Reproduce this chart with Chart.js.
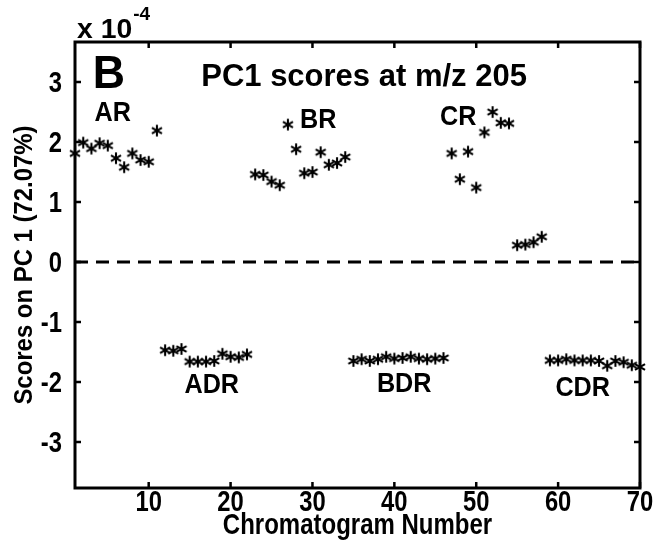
<!DOCTYPE html>
<html><head><meta charset="utf-8">
<script src="https://cdn.jsdelivr.net/npm/chart.js@4/dist/chart.umd.min.js"></script>
<style>html,body{margin:0;padding:0;background:#fff;}#wrap{width:662px;height:552px;}</style>
</head><body><div id="wrap"><canvas id="c" width="662" height="552"></canvas></div>
<script>
const chromatogram = [1,2,3,4,5,6,7,8,9,10,11,12,13,14,15,16,17,18,19,20,21,22,23,24,25,26,27,28,29,30,31,32,33,34,35,36,37,38,39,40,41,42,43,44,45,46,47,48,49,50,51,52,53,54,55,56,57,58,59,60,61,62,63,64,65,66,67,68,69,70];
const scores = [
  1.81, 1.99, 1.89, 1.98, 1.94, 1.73, 1.58, 1.81, 1.70, 1.67, 2.19,
  -1.47, -1.48, -1.45, -1.66, -1.66, -1.66, -1.65, -1.53, -1.58, -1.59, -1.54,
  1.46, 1.45, 1.34, 1.28, 2.29, 1.88, 1.48, 1.50, 1.83, 1.62, 1.65, 1.75,
  -1.65, -1.62, -1.65, -1.62, -1.58, -1.61, -1.60, -1.58, -1.61, -1.62, -1.61, -1.60,
  1.81, 1.38, 1.84, 1.24, 2.16, 2.50, 2.32, 2.31, 0.28, 0.29, 0.33, 0.42,
  -1.64, -1.64, -1.62, -1.64, -1.64, -1.64, -1.65, -1.73, -1.65, -1.67, -1.72, -1.75
];
const xTicks = [10, 20, 30, 40, 50, 60, 70];
const yTicks = [-3, -2, -1, 0, 1, 2, 3];
const groupNames = ['AR', 'BR', 'CR', 'ADR', 'BDR', 'CDR'];
const groupNameX = [5.6, 30.7, 47.8, 17.7, 41.2, 63.0];
const groupNameY = [2.48, 2.37, 2.42, -2.05, -2.03, -2.10];
const panelLetter = 'B';
const plotTitle = 'PC1 scores at m/z 205';
const xTitle = 'Chromatogram Number';
const yTitle = 'Scores on PC 1 (72.07%)';
const exponentBase = 'x 10';
const exponentPower = '-4';

const FONT = "'Liberation Sans', Arial, sans-serif";

function makeStar() {
  const c = document.createElement('canvas');
  c.width = 14; c.height = 14;
  const g = c.getContext('2d');
  g.strokeStyle = '#000'; g.lineWidth = 2.1; g.lineCap = 'butt';
  const r = 5.8;
  for (const a of [90, 30, 150]) {
    const t = a * Math.PI / 180;
    g.beginPath();
    g.moveTo(7 - r * Math.cos(t), 7 - r * Math.sin(t));
    g.lineTo(7 + r * Math.cos(t), 7 + r * Math.sin(t));
    g.stroke();
  }
  return c;
}

function txt(ctx, s, x, y, size, sx, align, baseline, rot) {
  ctx.save();
  ctx.translate(x, y);
  if (rot) ctx.rotate(rot);
  ctx.scale(sx, 1);
  ctx.font = 'bold ' + size + 'px ' + FONT;
  ctx.textAlign = align;
  ctx.textBaseline = baseline;
  ctx.fillStyle = '#000';
  ctx.fillText(s, 0, 0);
  ctx.restore();
}

const points = chromatogram.map((x, i) => ({x: x, y: scores[i]}));

const decor = {
  id: 'decor',
  afterDraw(chart) {
    const ctx = chart.ctx, a = chart.chartArea;
    const xs = chart.scales.x, ys = chart.scales.y;
    ctx.save();
    ctx.strokeStyle = '#000'; ctx.lineWidth = 3;
    ctx.strokeRect(a.left, a.top, a.right - a.left, a.bottom - a.top);
    ctx.lineWidth = 2.5;
    const tl = 6;
    xs.ticks.forEach(t => {
      const p = xs.getPixelForValue(t.value);
      ctx.beginPath();
      ctx.moveTo(p, a.bottom); ctx.lineTo(p, a.bottom - tl);
      ctx.moveTo(p, a.top); ctx.lineTo(p, a.top + tl);
      ctx.stroke();
      txt(ctx, String(t.value), p, 511, 29, 0.82, 'center', 'alphabetic');
    });
    ys.ticks.forEach(t => {
      const p = ys.getPixelForValue(t.value);
      ctx.beginPath();
      ctx.moveTo(a.left, p); ctx.lineTo(a.left + tl, p);
      ctx.moveTo(a.right, p); ctx.lineTo(a.right - tl, p);
      ctx.stroke();
      txt(ctx, String(t.value), a.left - 13, p + 10, 29, 0.82, 'right', 'alphabetic');
    });
    ctx.restore();
    groupNames.forEach((n, i) => {
      txt(ctx, n, xs.getPixelForValue(groupNameX[i]), ys.getPixelForValue(groupNameY[i]), 28, 0.9, 'center', 'middle');
    });
    txt(ctx, plotTitle, xs.getPixelForValue(36.3), ys.getPixelForValue(3.08), 31, 1.0, 'center', 'middle');
    txt(ctx, panelLetter, xs.getPixelForValue(5.15), ys.getPixelForValue(3.12), 47, 0.95, 'center', 'middle');
    txt(ctx, xTitle, (a.left + a.right) / 2, 534, 30, 0.8, 'center', 'alphabetic');
    txt(ctx, yTitle, 32, (a.top + a.bottom) / 2, 26, 0.92, 'center', 'alphabetic', -Math.PI / 2);
    txt(ctx, exponentBase, a.left + 2, a.top - 4, 27, 1.05, 'left', 'alphabetic');
    ctx.save();
    ctx.font = 'bold 27px ' + FONT;
    const w = ctx.measureText(exponentBase).width * 1.05;
    ctx.restore();
    txt(ctx, exponentPower, a.left + 3 + w, a.top - 22, 19, 1.0, 'left', 'alphabetic');
  }
};

new Chart(document.getElementById('c'), {
  type: 'scatter',
  data: {
    datasets: [
      {
        type: 'line',
        data: [{x: 1, y: 0}, {x: 70, y: 0}],
        borderColor: '#000', borderWidth: 3, borderDash: [13, 8],
        pointRadius: 0, fill: false, order: 2
      },
      {
        data: points,
        pointStyle: makeStar(),
        pointRadius: 6,
        clip: false,
        order: 1
      }
    ]
  },
  plugins: [decor],
  options: {
    responsive: false,
    animation: false,
    devicePixelRatio: 1,
    layout: {padding: {left: 0, top: 42, right: 22, bottom: 0}},
    plugins: {legend: {display: false}, tooltip: {enabled: false}},
    scales: {
      x: {
        type: 'linear', min: 1, max: 70,
        afterBuildTicks: s => { s.ticks = xTicks.map(v => ({value: v})); },
        afterFit: s => { s.height = 64; },
        grid: {display: false, drawTicks: false},
        border: {display: false},
        ticks: {display: false},
        title: {display: false, text: xTitle}
      },
      y: {
        type: 'linear', min: -3.767, max: 3.667,
        afterBuildTicks: s => { s.ticks = yTicks.map(v => ({value: v})); },
        afterFit: s => { s.width = 75; },
        grid: {display: false, drawTicks: false},
        border: {display: false},
        ticks: {display: false},
        title: {display: false, text: yTitle}
      }
    }
  }
});
</script>
</body></html>
